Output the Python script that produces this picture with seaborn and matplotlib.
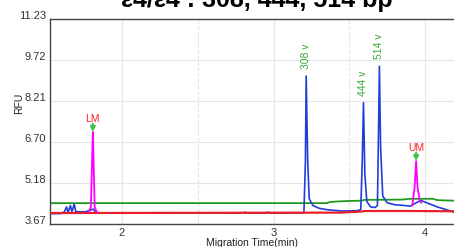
# plot.py
# Electropherogram: e4/e4 genotype, three fragments + lower/upper markers

import matplotlib
matplotlib.use('Agg')
import pandas as pd
import matplotlib.pyplot as plt
from matplotlib.ticker import MultipleLocator
import seaborn as sns

# ---- data ----
blue_time = [1.525, 1.60, 1.62, 1.635, 1.645, 1.66, 1.67, 1.685, 1.695, 1.72, 1.76, 1.79,
             1.81, 1.83, 1.86, 2.80, 2.81, 2.82, 2.95, 2.96, 2.97, 3.20, 3.21, 3.215,
             3.225, 3.235, 3.26, 3.30, 3.35, 3.45, 3.55, 3.575, 3.585, 3.593, 3.602,
             3.615, 3.64, 3.67, 3.685, 3.692, 3.698, 3.706, 3.72, 3.75, 3.80, 3.85,
             3.90, 3.97, 4.08, 4.19]
blue_rfu = [4.05, 4.06, 4.12, 4.30, 4.10, 4.35, 4.13, 4.40, 4.13, 4.12, 4.12, 4.18,
            4.22, 4.10, 4.08, 4.07, 4.11, 4.07, 4.07, 4.11, 4.07, 4.08, 6.00, 9.12,
            6.00, 4.60, 4.35, 4.25, 4.20, 4.15, 4.16, 4.20, 6.00, 8.14, 5.50,
            4.50, 4.30, 4.28, 4.35, 7.00, 9.48, 6.50, 4.70, 4.45, 4.38, 4.36,
            4.33, 4.54, 4.30, 4.11]

green_time = [1.525, 3.35, 3.37, 3.42, 3.50, 3.58, 3.60, 3.85, 3.90, 4.05, 4.08, 4.19]
green_rfu = [4.44, 4.44, 4.48, 4.50, 4.52, 4.53, 4.56, 4.57, 4.60, 4.60, 4.55, 4.53]

red_time = [1.525, 3.45, 3.50, 3.58, 3.60, 3.90, 4.19]
red_rfu = [4.075, 4.09, 4.11, 4.13, 4.15, 4.15, 4.14]

lm_time = [1.78, 1.795, 1.803, 1.808, 1.813, 1.82, 1.835]
lm_rfu = [4.10, 4.30, 6.00, 7.06, 6.00, 4.30, 4.10]
um_time = [3.915, 3.93, 3.94, 3.95, 3.965, 3.975]
um_rfu = [4.35, 5.00, 5.99, 5.00, 4.50, 4.45]

peak_labels = ['308 v', '444 v', '514 v']
peak_time = [3.215, 3.593, 3.698]
peak_rfu = [9.12, 8.14, 9.48]

marker_labels = ['LM', 'UM']
marker_time = [1.808, 3.94]
marker_rfu = [7.06, 5.99]

y_ticks = [3.67, 5.18, 6.70, 8.21, 9.72, 11.23]
y_ticklabels = ['3.67', '5.18', '6.70', '8.21', '9.72', '11.23']
x_ticks = [2, 3, 4]

blue_df = pd.DataFrame({'time': blue_time, 'rfu': blue_rfu})
green_df = pd.DataFrame({'time': green_time, 'rfu': green_rfu})
red_df = pd.DataFrame({'time': red_time, 'rfu': red_rfu})
lm_df = pd.DataFrame({'time': lm_time, 'rfu': lm_rfu})
um_df = pd.DataFrame({'time': um_time, 'rfu': um_rfu})

sns.set_style('white')
plt.rcParams['font.family'] = ['Liberation Sans', 'DejaVu Sans']

fig = plt.figure(figsize=(4.54, 2.47), dpi=100)
ax = fig.add_axes([0.110, 0.093, 0.89, 0.831])

sns.lineplot(data=blue_df, x='time', y='rfu', ax=ax, color='#1f3fd8', lw=1.2,
             sort=False, estimator=None, zorder=3)
sns.lineplot(data=green_df, x='time', y='rfu', ax=ax, color='#1f9a1f', lw=1.3,
             sort=False, estimator=None, zorder=2)
sns.lineplot(data=red_df, x='time', y='rfu', ax=ax, color='#e8202a', lw=1.6,
             sort=False, estimator=None, zorder=4)
sns.lineplot(data=lm_df, x='time', y='rfu', ax=ax, color='#ff00ff', lw=1.3,
             sort=False, estimator=None, zorder=5)
sns.lineplot(data=um_df, x='time', y='rfu', ax=ax, color='#ff00ff', lw=1.3,
             sort=False, estimator=None, zorder=5)

# fragment size labels
for lab, t, r in zip(peak_labels, peak_time, peak_rfu):
    ax.annotate(lab, (t, r), xytext=(0, 5), textcoords='offset points',
                rotation=90, ha='center', va='bottom', fontsize=7.5,
                color='#3aa83a')

# marker arrows + labels
for lab, t, r in zip(marker_labels, marker_time, marker_rfu):
    ax.annotate('', (t, r), xytext=(0, 6), textcoords='offset points',
                arrowprops=dict(arrowstyle='-|>', color='#44c14a', lw=1.5,
                                mutation_scale=7, shrinkA=0, shrinkB=0),
                zorder=6)
    ax.annotate(lab, (t, r), xytext=(0, 5.5), textcoords='offset points',
                ha='center', va='bottom', fontsize=7.5, color='#ff2020')

ax.set_xlim(1.525, 4.19)
ax.set_ylim(3.67, 11.23)
ax.set_xticks(x_ticks)
ax.xaxis.set_minor_locator(MultipleLocator(0.5))
ax.set_yticks(y_ticks)
ax.set_yticklabels(y_ticklabels)
ax.grid(True, which='major', color='#e6e6e6', lw=0.8)
ax.grid(True, which='minor', axis='x', color='#e6e6e6', lw=0.8, ls='--')
ax.set_axisbelow(True)
ax.tick_params(axis='both', length=0, labelsize=8, colors='#333333', pad=3)
for t in ax.get_yticklabels():
    t.set_verticalalignment('baseline')
for s in ['left', 'bottom', 'top']:
    ax.spines[s].set_color('#444444')
    ax.spines[s].set_linewidth(1.0)
ax.spines['right'].set_visible(False)

ax.set_xlabel('Migration Time(min)', fontsize=7.5, color='#222222', labelpad=0)
ax.set_ylabel('RFU', fontsize=7.5, color='#222222')
ax.yaxis.set_label_coords(-0.064, 0.59)

fig.text(0.566, 0.972, 'ε4/ε4 : 308, 444, 514 bp', ha='center', va='baseline',
         fontsize=18, fontweight='bold', color='black')

fig.savefig('out.png', dpi=100)
